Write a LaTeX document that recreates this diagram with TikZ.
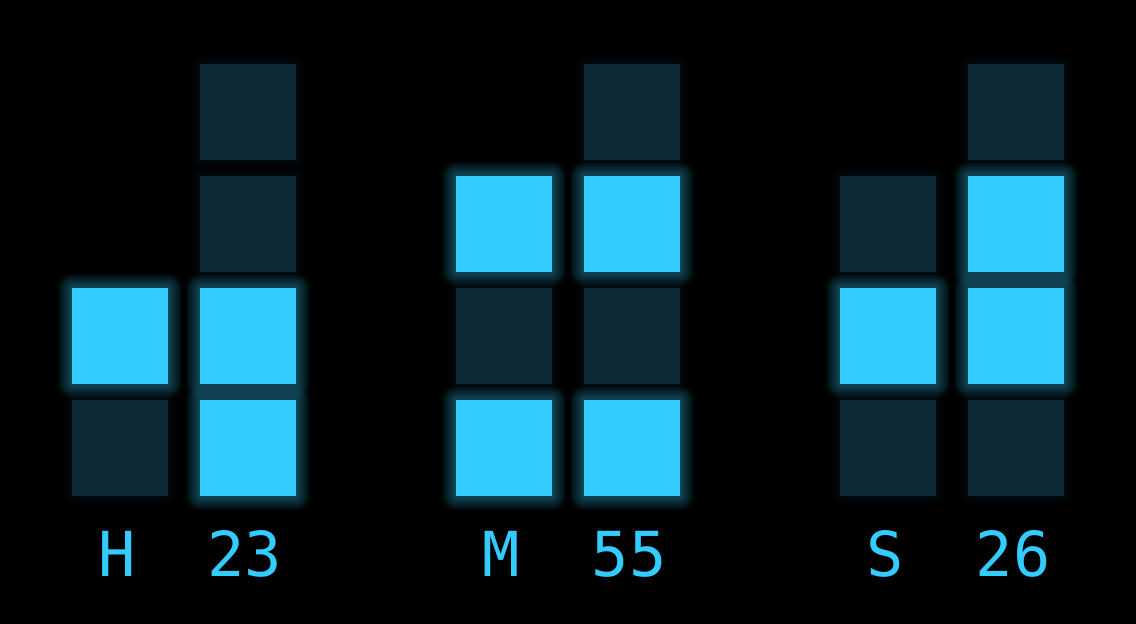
\documentclass[tikz,border=0pt]{standalone}
\usepackage{fontspec}
\setmonofont{DejaVu Sans Mono}
\usetikzlibrary{positioning}
\definecolor{ledon}{RGB}{51,204,255}
\definecolor{ledoff}{RGB}{14,41,51}

\tikzset{
  bit/.style={minimum size=96pt, inner sep=0pt, outer sep=0pt},
  biton/.style={bit, fill=ledon},
  bitoff/.style={bit, fill=ledoff},
  glowon/.style={bit, fill=ledon, fill opacity=0.028},
  glowoff/.style={bit, fill=ledoff, fill opacity=0.05},
  digit/.style={text=ledon, inner sep=0pt, anchor=base,
    font=\fontsize{62pt}{62pt}\selectfont\ttfamily}
}

\begin{document}
\begin{tikzpicture}[x=1pt, y=-1pt]
  \fill[black] (0,0) rectangle (1136,624);
  \useasboundingbox (0,0) rectangle (1136,624);
  % columns: name / centre x / number of bits / value
  \foreach \name/\cx/\nb/\val in {ht/120/2/2, ho/248/4/3, mt/504/3/5,
      mo/632/4/5, st/888/3/2, so/1016/4/6} {
    \foreach \b in {1,...,\nb} {
      \pgfmathtruncatemacro\lit{mod(floor(\val/2^(\b-1)),2)}
      \pgfmathsetmacro\cy{448-112*(\b-1)}
      \ifnum\lit=1
        \foreach \g in {1,...,16} {
          \pgfmathsetmacro\gr{0.9*\g}
          \node[glowon, minimum size=96pt+2*\gr pt, rounded corners=\gr pt]
            at (\cx,\cy) {};
        }
        \node[biton] (\name\b) at (\cx,\cy) {};
      \else
        \foreach \g in {1,...,8} {
          \pgfmathsetmacro\gr{0.9*\g}
          \node[glowoff, minimum size=96pt+2*\gr pt, rounded corners=\gr pt]
            at (\cx,\cy) {};
        }
        \node[bitoff] (\name\b) at (\cx,\cy) {};
      \fi
    }
  }
  % labels
  \node[digit] (lblh) at (117,576) {H};
  \node[digit] (valh) at (245,576) {23};
  \node[digit] (lblm) at (501,576) {M};
  \node[digit] (valm) at (629,576) {55};
  \node[digit] (lbls) at (885,576) {S};
  \node[digit] (vals) at (1013,576) {26};
\end{tikzpicture}
\end{document}
